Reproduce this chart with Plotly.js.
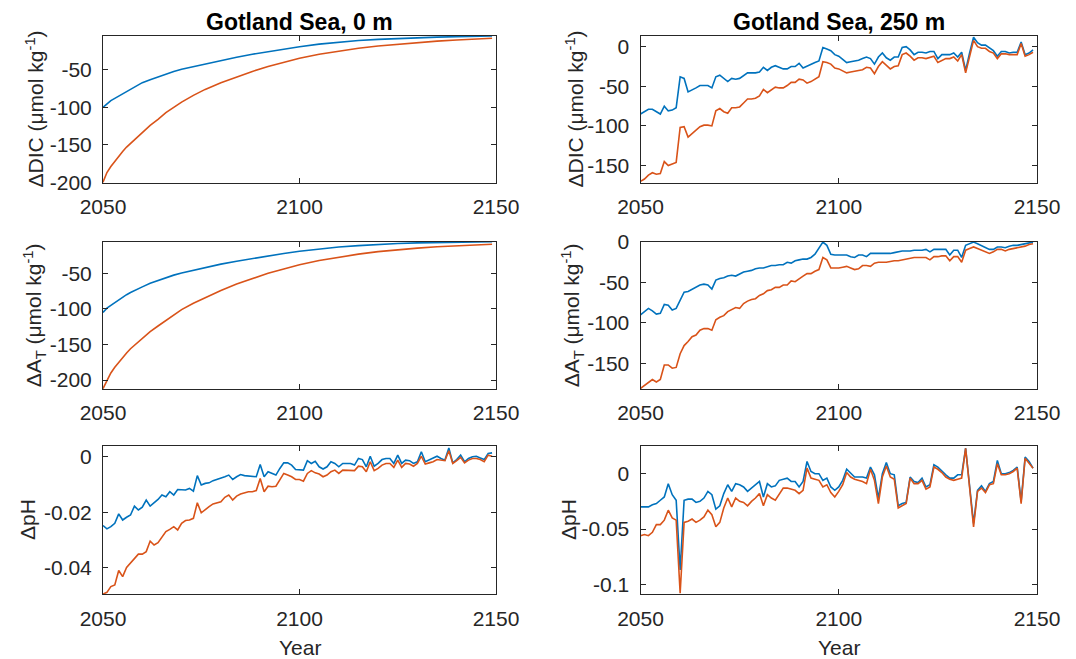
<!DOCTYPE html>
<html>
<head>
<meta charset="utf-8">
<script src="https://cdn.plot.ly/plotly-3.0.1.min.js"></script>
<style>html,body{margin:0;padding:0;background:#fff;}#chart{width:1076px;height:659px;}</style>
</head>
<body>
<div id="chart"></div>
<script>
// ---------- DATA ----------
// yearly axis for the noisy series
const yearsAnnual = [2050,2051,2052,2053,2054,2055,2056,2057,2058,2059,2060,2061,2062,2063,2064,2065,2066,2067,2068,2069,2070,2071,2072,2073,2074,2075,2076,2077,2078,2079,2080,2081,2082,2083,2084,2085,2086,2087,2088,2089,2090,2091,2092,2093,2094,2095,2096,2097,2098,2099,2100,2101,2102,2103,2104,2105,2106,2107,2108,2109,2110,2111,2112,2113,2114,2115,2116,2117,2118,2119,2120,2121,2122,2123,2124,2125,2126,2127,2128,2129,2130,2131,2132,2133,2134,2135,2136,2137,2138,2139,2140,2141,2142,2143,2144,2145,2146,2147,2148,2149];
// sampled years for the smooth surface series
const yearsSurface = [2050,2051,2052,2053,2054,2055,2056,2057,2058,2059,2060,2062,2064,2066,2068,2070,2073,2076,2080,2084,2088,2092,2096,2100,2105,2110,2115,2120,2125,2130,2135,2140,2145,2149];

// Gotland Sea, 0 m
const dic0Blue   = [-100,-95,-91,-88,-85,-81,-78,-75.5,-73,-70,-67,-63,-59,-55,-52,-49,-45.5,-42,-37,-33,-29,-25.5,-22,-19,-15.5,-12.8,-10.8,-9.2,-8,-7,-6.2,-5.5,-5,-4.6];
const dic0Orange = [-200,-187,-179,-172,-165,-159,-153,-148,-143,-138,-133,-124,-116,-107,-100,-93,-84,-76,-67,-59,-52,-45.5,-40,-34.5,-29,-24.5,-21,-18,-15.5,-13.5,-11.5,-10,-8.8,-7.8];
const at0Blue    = [-105,-99,-95,-91,-88,-84,-80,-77,-74,-71.5,-69,-64,-60,-56,-52.5,-49.5,-45.5,-42,-37,-33,-29,-25.5,-22,-19,-15.5,-13,-11,-9.3,-8,-7.2,-6.5,-6,-5.6,-5.5];
const at0Orange  = [-212,-200,-190,-182,-175,-168,-162,-156,-151,-146,-141,-132,-124,-116,-108,-101,-92,-84,-74,-65,-57,-50,-44,-38,-32,-27,-23,-19.5,-16.5,-14.5,-12.5,-11,-9.8,-9];
const ph0Blue = [-0.0248,-0.0260,-0.0252,-0.0240,-0.0206,-0.0228,-0.0218,-0.0210,-0.0178,-0.0192,
  -0.0182,-0.0156,-0.0178,-0.0166,-0.0154,-0.0138,-0.0144,-0.0126,-0.0138,-0.0118,
  -0.0120,-0.0120,-0.0114,-0.0124,-0.0068,-0.0102,-0.0096,-0.0094,-0.0086,-0.0082,
  -0.0078,-0.0072,-0.0066,-0.0082,-0.0072,-0.0064,-0.0068,-0.0070,-0.0072,-0.0072,
  -0.0028,-0.0072,-0.0054,-0.0060,-0.0066,-0.0042,-0.0022,-0.0022,-0.0030,-0.0046,
  -0.0048,-0.0048,-0.0014,-0.0024,-0.0016,-0.0036,-0.0044,-0.0036,-0.0018,-0.0024,
  -0.0036,-0.0024,-0.0024,-0.0024,-0.0030,-0.0006,-0.0010,-0.0036,0.0002,-0.0034,
  -0.0024,-0.0010,-0.0006,-0.0006,-0.0024,0.0006,-0.0024,-0.0012,-0.0014,-0.0024,
  -0.0018,0.0018,-0.0018,-0.0012,-0.0006,0.0002,-0.0006,-0.0012,0.0032,-0.0022,
  -0.0010,0.0006,-0.0018,-0.0006,0.0000,0.0002,-0.0004,-0.0010,0.0012,0.0014];
const ph0Orange = [-0.0495,-0.0489,-0.0468,-0.0462,-0.0410,-0.0432,-0.0399,-0.0384,-0.0366,-0.0351,
  -0.0351,-0.0342,-0.0304,-0.0318,-0.0310,-0.0288,-0.0270,-0.0262,-0.0252,-0.0264,
  -0.0240,-0.0230,-0.0228,-0.0222,-0.0166,-0.0202,-0.0190,-0.0180,-0.0170,-0.0166,
  -0.0162,-0.0146,-0.0138,-0.0156,-0.0142,-0.0134,-0.0130,-0.0126,-0.0126,-0.0122,
  -0.0078,-0.0126,-0.0106,-0.0108,-0.0106,-0.0082,-0.0060,-0.0066,-0.0072,-0.0082,
  -0.0082,-0.0088,-0.0060,-0.0050,-0.0058,-0.0062,-0.0072,-0.0066,-0.0054,-0.0048,
  -0.0060,-0.0048,-0.0048,-0.0048,-0.0050,-0.0034,-0.0036,-0.0054,-0.0018,-0.0050,
  -0.0042,-0.0030,-0.0024,-0.0024,-0.0038,-0.0012,-0.0038,-0.0024,-0.0026,-0.0034,
  -0.0024,0.0002,-0.0026,-0.0022,-0.0018,-0.0010,-0.0012,-0.0014,0.0022,-0.0024,
  -0.0014,-0.0002,-0.0022,-0.0012,-0.0006,-0.0006,-0.0010,-0.0018,0.0006,0.0002];

// Gotland Sea, 250 m
const dic250Blue = [-85,-82,-79,-79,-82,-85,-75,-81,-80,-77,
  -38,-40,-57,-55,-52,-49,-49,-49,-52,-38,
  -36,-40,-44,-40,-41,-40,-37,-33,-33,-33,
  -32,-26,-30,-26,-24,-26,-28,-28,-25,-25,
  -21,-27,-25,-23,-20,-18,-1,-3,-5,-10,
  -12,-16,-20,-19,-18,-17,-15,-13,-15,-22,
  -13,-8,-14,-17,-13,-13,-1,0,-4,-10,
  -7,-7,-8,-6,-6,-15,-10,-10,-10,-8,
  -13,-7,-30,-8,12,5,2,2,-2,-5,
  -12,-6,-6,-8,-7,-7,6,-10,-8,-4];
const dic250Orange = [-170,-167,-162,-159,-161,-160,-145,-150,-148,-146,
  -102,-101,-114,-110,-106,-101,-99,-99,-100,-81,
  -78,-82,-84,-77,-77,-76,-71,-66,-66,-65,
  -62,-54,-58,-54,-51,-52,-52,-49,-45,-45,
  -41,-42,-46,-44,-41,-38,-19,-20,-22,-27,
  -28,-30,-33,-32,-31,-30,-29,-26,-27,-34,
  -25,-19,-24,-28,-25,-24,-10,-8,-12,-17,
  -14,-14,-15,-13,-12,-20,-17,-15,-15,-13,
  -18,-10,-33,-12,8,0,-2,-2,-6,-8,
  -15,-9,-9,-10,-10,-10,4,-12,-10,-7];
const at250Blue = [-90,-86,-82,-85,-89,-88,-77,-78,-84,-82,
  -72,-62,-61,-58,-56,-53,-52,-53,-58,-47,
  -45,-44,-42,-41,-42,-39,-37,-36,-35,-33,
  -32,-32,-30,-29,-29,-28,-28,-25,-26,-23,
  -22,-21,-21,-19,-15,-7,0,-4,-15,-16,
  -16,-16,-16,-18,-19,-16,-16,-18,-14,-14,
  -14,-14,-14,-14,-13,-12,-11,-11,-11,-10,
  -10,-10,-9,-12,-9,-9,-9,-9,-16,-10,
  -10,-19,-4,-2,0,-2,-4,-6,-9,-9,
  -6,-6,-7,-5,-4,-4,-3,-2,-1,0];
const at250Orange = [-181,-177,-173,-170,-173,-170,-152,-152,-156,-155,
  -138,-128,-123,-117,-115,-109,-107,-107,-109,-96,
  -93,-91,-86,-84,-81,-82,-76,-73,-71,-70,
  -66,-64,-60,-59,-56,-56,-53,-53,-48,-49,
  -45,-42,-39,-39,-36,-34,-19,-22,-32,-32,
  -32,-31,-30,-32,-34,-33,-29,-29,-30,-26,
  -25,-25,-25,-24,-23,-23,-22,-21,-20,-19,
  -19,-19,-19,-22,-18,-18,-17,-17,-23,-18,
  -18,-25,-10,-8,-6,-8,-10,-12,-14,-12,
  -9,-9,-11,-9,-8,-7,-6,-5,-3,-2];
const ph250Blue = [-0.030,-0.030,-0.030,-0.028,-0.027,-0.024,-0.021,-0.009,-0.019,-0.024,
  -0.087,-0.024,-0.023,-0.023,-0.026,-0.025,-0.022,-0.016,-0.019,-0.032,
  -0.029,-0.018,-0.010,-0.016,-0.009,-0.010,-0.012,-0.016,-0.013,-0.010,
  -0.007,-0.021,-0.009,-0.012,-0.011,-0.006,-0.005,-0.004,-0.007,-0.007,
  -0.012,-0.007,0.011,0.002,0.000,0.000,-0.006,-0.004,-0.012,-0.015,
  -0.012,-0.006,0.004,0.000,-0.003,-0.003,-0.003,-0.004,0.006,-0.001,
  -0.022,0.000,0.010,0.000,-0.001,-0.029,-0.027,-0.026,-0.003,-0.007,
  -0.008,-0.004,-0.012,-0.010,0.008,0.006,0.002,-0.001,-0.004,-0.004,
  -0.001,-0.001,0.023,-0.012,-0.045,-0.015,-0.011,-0.016,-0.009,-0.007,
  0.012,0.000,0.000,0.001,0.003,0.006,-0.025,0.015,0.011,0.005];
const ph250Orange = [-0.056,-0.055,-0.056,-0.053,-0.046,-0.046,-0.042,-0.033,-0.040,-0.042,
  -0.108,-0.044,-0.043,-0.041,-0.044,-0.042,-0.039,-0.033,-0.037,-0.048,
  -0.044,-0.031,-0.022,-0.030,-0.022,-0.025,-0.026,-0.029,-0.025,-0.022,
  -0.018,-0.029,-0.019,-0.022,-0.024,-0.018,-0.013,-0.013,-0.014,-0.015,
  -0.018,-0.015,0.005,-0.004,-0.005,-0.006,-0.012,-0.010,-0.017,-0.021,
  -0.016,-0.010,0.001,-0.003,-0.005,-0.006,-0.007,-0.009,0.004,-0.006,
  -0.027,-0.003,0.007,-0.003,-0.005,-0.031,-0.029,-0.027,-0.004,-0.009,
  -0.009,-0.006,-0.014,-0.012,0.006,0.004,0.001,-0.003,-0.005,-0.006,
  -0.005,-0.004,0.023,-0.013,-0.048,-0.016,-0.013,-0.017,-0.010,-0.009,
  0.009,-0.001,-0.001,0.000,0.002,0.005,-0.027,0.014,0.010,0.005];

// tick labels
const xTickVals = [2050, 2100, 2150];
const xTickText = ['2050', '2100', '2150'];
const yTicksConc0 = [-200, -150, -100, -50];
const yTicksConc0Text = ['-200', '-150', '-100', '-50'];
const yTicksConc250 = [-150, -100, -50, 0];
const yTicksConc250Text = ['-150', '-100', '-50', '0'];
const yTicksPh0 = [-0.04, -0.02, 0];
const yTicksPh0Text = ['-0.04', '-0.02', '0'];
const yTicksPh250 = [-0.1, -0.05, 0];
const yTicksPh250Text = ['-0.1', '-0.05', '0'];

const titles = ['Gotland Sea, 0 m', 'Gotland Sea, 250 m'];
const yLabels = ['ΔDIC (μmol kg<sup>-1</sup>)', 'ΔA<sub>T</sub> (μmol kg<sup>-1</sup>)', 'ΔpH'];
const xLabel = 'Year';

// ---------- STYLE ----------
const W = 1076, H = 659;
const BLUE = '#0072BD', ORANGE = '#D95319', AX = '#262626';
const FONT = 'Liberation Sans, Arial, Helvetica, sans-serif';
const colPx = [[103, 496], [640.5, 1037]];
const rowPx = [[36, 183], [241.7, 389], [445.7, 594.3]];
const dom = (a, b, n) => [a / n, b / n];
const ydom = (t, b) => [1 - b / H, 1 - t / H];

function line(x, y, color, xa, ya) {
  return {x: x, y: y, type: 'scatter', mode: 'lines', xaxis: xa, yaxis: ya,
          line: {color: color, width: 1.6}, hoverinfo: 'skip', showlegend: false};
}

const traces = [
  line(yearsSurface, dic0Blue, BLUE, 'x', 'y'),
  line(yearsSurface, dic0Orange, ORANGE, 'x', 'y'),
  line(yearsAnnual, dic250Blue, BLUE, 'x2', 'y2'),
  line(yearsAnnual, dic250Orange, ORANGE, 'x2', 'y2'),
  line(yearsSurface, at0Blue, BLUE, 'x3', 'y3'),
  line(yearsSurface, at0Orange, ORANGE, 'x3', 'y3'),
  line(yearsAnnual, at250Blue, BLUE, 'x4', 'y4'),
  line(yearsAnnual, at250Orange, ORANGE, 'x4', 'y4'),
  line(yearsAnnual, ph0Blue, BLUE, 'x5', 'y5'),
  line(yearsAnnual, ph0Orange, ORANGE, 'x5', 'y5'),
  line(yearsAnnual, ph250Blue, BLUE, 'x6', 'y6'),
  line(yearsAnnual, ph250Orange, ORANGE, 'x6', 'y6')
];

function xAxis(col, anchor) {
  return {domain: dom(colPx[col][0], colPx[col][1], W), anchor: anchor, range: [2050, 2150],
    tickvals: xTickVals, ticktext: xTickText, ticks: 'inside', ticklen: 5, tickcolor: AX, tickwidth: 1,
    showline: true, linecolor: AX, linewidth: 1, mirror: 'allticks', showgrid: false, zeroline: false,
    tickfont: {family: FONT, size: 21, color: AX}, ticklabelstandoff: 5, fixedrange: true};
}
function yAxis(row, anchor, range, vals, text) {
  return {domain: ydom(rowPx[row][0], rowPx[row][1]), anchor: anchor, range: range,
    tickvals: vals, ticktext: text, ticks: 'inside', ticklen: 5, tickcolor: AX, tickwidth: 1,
    showline: true, linecolor: AX, linewidth: 1, mirror: 'allticks', showgrid: false, zeroline: false,
    tickfont: {family: FONT, size: 21, color: AX}, ticklabelstandoff: 6, fixedrange: true};
}

const ann = [];
function addAnn(text, xpx, ypx, opts) {
  ann.push(Object.assign({text: text, x: xpx / W, y: 1 - ypx / H, xref: 'paper', yref: 'paper',
    showarrow: false, xanchor: 'center', yanchor: 'middle', borderpad: 0,
    font: {family: FONT, size: 21, color: AX}}, opts || {}));
}
addAnn('<b>' + titles[0] + '</b>', 299.5, 22, {font: {family: FONT, size: 23, color: '#000'}});
addAnn('<b>' + titles[1] + '</b>', 839, 22, {font: {family: FONT, size: 23, color: '#000'}});
const ylabX = [[34, 34, 27], [574, 572, 568]];
for (let c = 0; c < 2; c++) {
  for (let r = 0; r < 3; r++) {
    addAnn(yLabels[r], ylabX[c][r], (rowPx[r][0] + rowPx[r][1]) / 2, {textangle: -90});
  }
}
addAnn(xLabel, 299.5, 647);
addAnn(xLabel, 839, 647);

const layout = {
  width: W, height: H, margin: {l: 0, r: 0, t: 0, b: 0}, autosize: false,
  paper_bgcolor: '#fff', plot_bgcolor: '#fff', showlegend: false,
  font: {family: FONT, color: AX},
  xaxis: xAxis(0, 'y'),
  xaxis2: xAxis(1, 'y2'),
  xaxis3: xAxis(0, 'y3'),
  xaxis4: xAxis(1, 'y4'),
  xaxis5: xAxis(0, 'y5'),
  xaxis6: xAxis(1, 'y6'),
  yaxis: yAxis(0, 'x', [-201, -4.7], yTicksConc0, yTicksConc0Text),
  yaxis2: yAxis(0, 'x2', [-172, 13.5], yTicksConc250, yTicksConc250Text),
  yaxis3: yAxis(1, 'x3', [-212.6, -5.5], yTicksConc0, yTicksConc0Text),
  yaxis4: yAxis(1, 'x4', [-181.7, 0.5], yTicksConc250, yTicksConc250Text),
  yaxis5: yAxis(2, 'x5', [-0.0496, 0.004], yTicksPh0, yTicksPh0Text),
  yaxis6: yAxis(2, 'x6', [-0.109, 0.0253], yTicksPh250, yTicksPh250Text),
  annotations: ann
};
Plotly.newPlot('chart', traces, layout, {staticPlot: true, displayModeBar: false});
</script>
</body>
</html>
